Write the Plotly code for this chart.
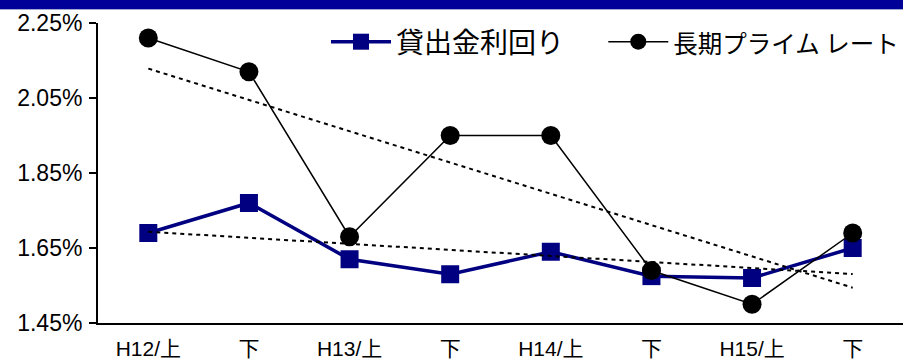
import numpy as np
import plotly.graph_objects as go

categories = ["H12/上", "下", "H13/上", "下", "H14/上", "下", "H15/上", "下"]
loan_yield = [1.69, 1.77, 1.62, 1.58, 1.64, 1.575, 1.57, 1.65]
prime_rate = [2.21, 2.12, 1.68, 1.95, 1.95, 1.59, 1.50, 1.69]
y_ticks = [1.45, 1.65, 1.85, 2.05, 2.25]
y_tick_labels = ["1.45%", "1.65%", "1.85%", "2.05%", "2.25%"]
series_names = ["貸出金利回り", "長期プライム レート"]

x_idx = np.arange(len(categories))
font_fam = "Liberation Sans, Arial, Noto Sans CJK JP, sans-serif"

def trend(vals):
    m, b = np.polyfit(x_idx, vals, 1)
    return list(m * x_idx + b)

fig = go.Figure()
fig.add_trace(go.Scatter(
    x=x_idx, y=loan_yield,
    name=series_names[0] + "\u3000\u00a0",
    mode="lines+markers",
    line=dict(color="#000080", width=3.5),
    marker=dict(symbol="square", size=18, color="#000080"),
))
fig.add_trace(go.Scatter(
    x=x_idx, y=prime_rate,
    name='<span style="font-size:24.5px">' + series_names[1] + '</span>',
    mode="lines+markers",
    line=dict(color="black", width=1.5),
    marker=dict(symbol="circle", size=19, color="black"),
))
for vals in (loan_yield, prime_rate):
    fig.add_trace(go.Scatter(
        x=x_idx, y=trend(vals), mode="lines", showlegend=False,
        line=dict(color="black", width=2, dash="4px,4px"), hoverinfo="skip",
    ))

W, H = 903, 361
L, R, T, B = 98, 0, 23, 38
pw, ph = W - L - R, H - T - B

fig.update_layout(
    width=W, height=H,
    margin=dict(l=L, r=R, t=T, b=B, pad=0, autoexpand=False),
    paper_bgcolor="white", plot_bgcolor="white",
    font=dict(family=font_fam, size=21, color="black"),
    showlegend=True,
    legend=dict(
        orientation="h", x=(326 - L) / pw, y=1 - (42 - T) / ph,
        xanchor="left", yanchor="middle",
        font=dict(size=28, family="Noto Sans CJK JP, sans-serif"),
        bgcolor="rgba(0,0,0,0)", itemwidth=60, tracegroupgap=0,
    ),
    xaxis=dict(
        tickmode="array", tickvals=list(x_idx), ticktext=categories,
        range=[-0.5, len(categories) - 0.5],
        showline=True, linecolor="black", linewidth=2,
        ticks="", showgrid=False, zeroline=False,
        ticklabelstandoff=6, automargin=False,
        tickfont=dict(size=21),
    ),
    yaxis=dict(
        range=[1.45, 2.25], tickmode="array", tickvals=y_ticks, ticktext=y_tick_labels,
        showline=True, linecolor="black", linewidth=2,
        ticks="outside", ticklen=7, tickwidth=2, tickcolor="black",
        showgrid=False, zeroline=False, ticklabelstandoff=2,
        automargin=False, tickfont=dict(size=23),
    ),
    shapes=[
        dict(type="rect", xref="paper", yref="paper",
             x0=-L / pw, x1=1.01, y0=1 + (T - 9) / ph, y1=1 + (T + 5) / ph,
             fillcolor="#000099", line=dict(width=0), layer="above"),
        dict(type="line", xref="paper", yref="paper",
             x0=-L / pw, x1=1.01, y0=1 + (T - 9.5) / ph, y1=1 + (T - 9.5) / ph,
             line=dict(color="#9fa8d0", width=1)),
    ],
)

fig.write_html("out.html")
